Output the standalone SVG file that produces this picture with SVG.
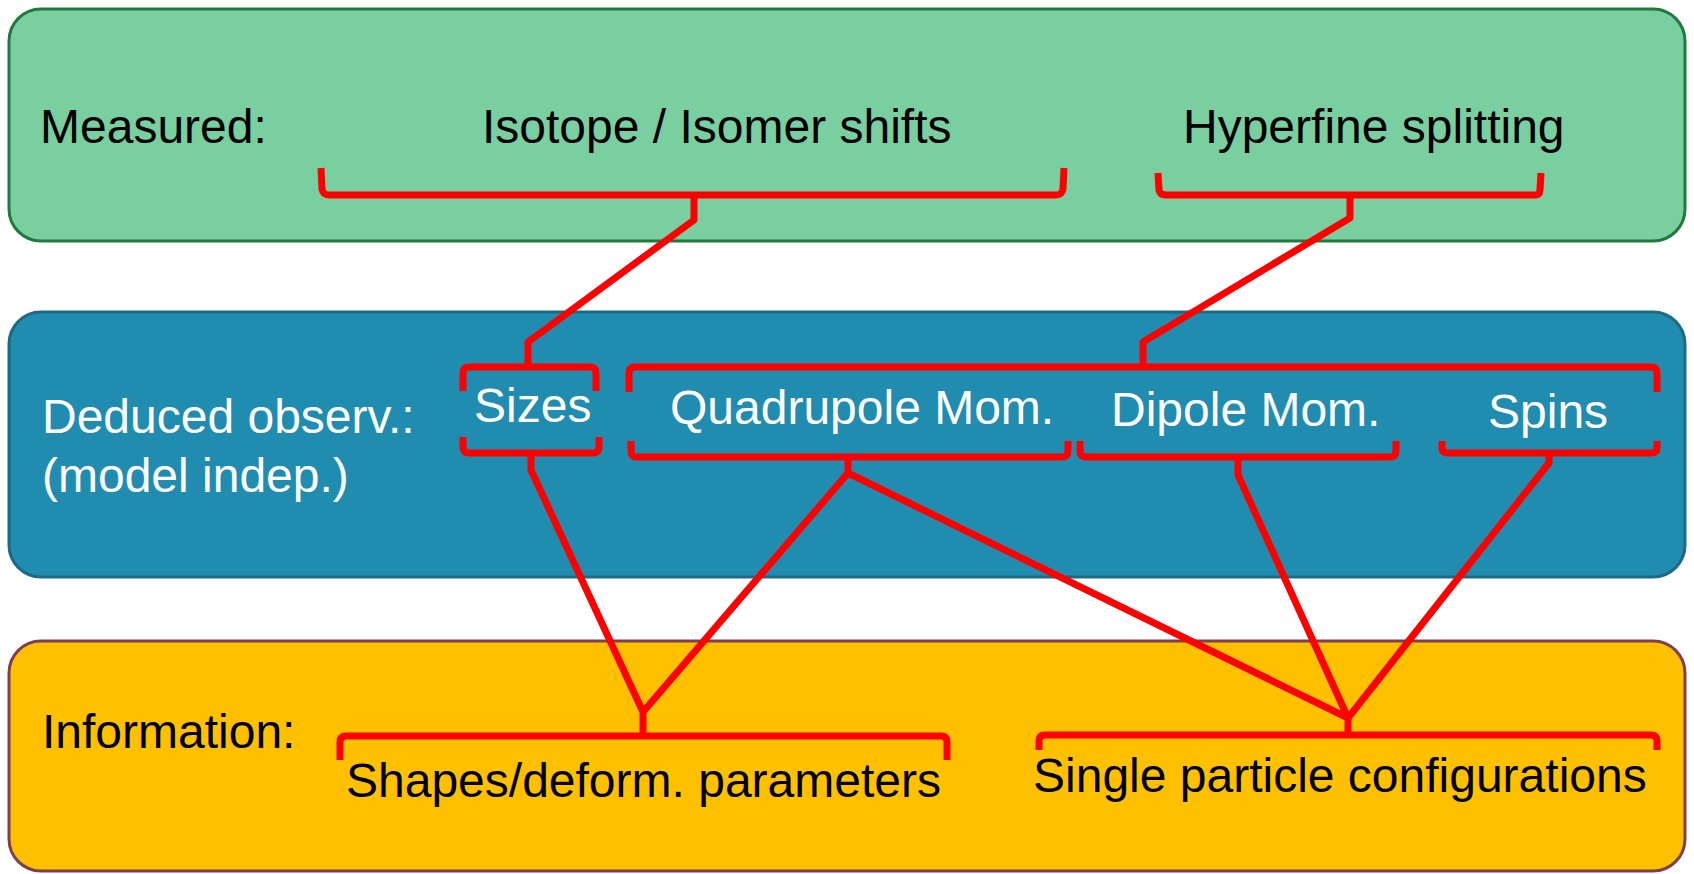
<svg xmlns="http://www.w3.org/2000/svg" width="1694" height="874" viewBox="0 0 1694 874">
<style>
.t{font-family:"Liberation Sans",Arial,sans-serif;font-size:48px}
.dk{fill:#000}
.wh{fill:#fff}
.br{fill:none;stroke:#ff0000;stroke-width:7;stroke-linejoin:round;stroke-linecap:butt}
.cn{fill:none;stroke:#ff0000;stroke-width:7;stroke-linejoin:round;stroke-linecap:butt}
</style>
<rect width="1694" height="874" fill="#fff"/>
<g id="measured">
<rect x="9" y="9" width="1676" height="232" rx="32" ry="32" fill="#7ACFA0" stroke="#1F7A3C" stroke-width="3"/>
<text class="t dk" x="40" y="143">Measured:</text>
</g>
<g id="isotope">
<text class="t dk" x="482" y="143">Isotope / Isomer shifts</text>
<path class="br" d="M321,168 L322,189 Q323,195 329,195 L1056,195 Q1062,195 1063,189 L1064,168"/>
</g>
<g id="hyperfine">
<text class="t dk" x="1183" y="143">Hyperfine splitting</text>
<path class="br" d="M1158,173 L1159,190 Q1160,195 1166,195 L1535,195 Q1540,195 1540,190 L1541,173"/>
</g>
<g id="deduced">
<rect x="9" y="312" width="1676" height="265" rx="32" ry="32" fill="#208DB0" stroke="#1B6A86" stroke-width="3"/>
<text class="t wh" x="42" y="433">Deduced observ.:</text>
<text class="t wh" x="42" y="492">(model indep.)</text>
</g>
<g id="sizes">
<text class="t wh" x="474" y="422">Sizes</text>
<path class="br" d="M463,391 L463,373 Q463,367 469,367 L590,367 Q596,367 596,373 L596,391"/>
<path class="br" d="M463,437 L463,447 Q463,453 469,453 L593,453 Q599,453 599,447 L599,437"/>
</g>
<g id="moments-spins">
<path class="br" d="M629,392 L629,373 Q629,367 635,367 L1651,367 Q1657,367 1657,373 L1657,392"/>
</g>
<g id="quadrupole">
<text class="t wh" x="670" y="424">Quadrupole Mom.</text>
<path class="br" d="M631,441 L631,451 Q631,457 637,457 L1062,457 Q1068,457 1068,451 L1068,441"/>
</g>
<g id="dipole">
<text class="t wh" x="1111" y="426">Dipole Mom.</text>
<path class="br" d="M1080,441 L1080,451 Q1080,457 1086,457 L1390,457 Q1396,457 1396,451 L1396,441"/>
</g>
<g id="spins">
<text class="t wh" x="1488" y="428">Spins</text>
<path class="br" d="M1442,441 L1442,448 Q1442,453 1448,453 L1651,453 Q1657,453 1657,448 L1657,441"/>
</g>
<g id="information">
<rect x="9" y="641" width="1676" height="230" rx="32" ry="32" fill="#FFC000" stroke="#7E3F50" stroke-width="3"/>
<text class="t dk" x="42" y="748">Information:</text>
</g>
<g id="shapes">
<path class="br" d="M340,760 L340,742 Q340,736 346,736 L941,736 Q947,736 947,742 L947,760"/>
<text class="t dk" x="346" y="797">Shapes/deform. parameters</text>
</g>
<g id="single">
<path class="br" d="M1039,750 L1039,741 Q1039,735 1045,735 L1651,735 Q1657,735 1657,741 L1657,750"/>
<text class="t dk" x="1033" y="792">Single particle configurations</text>
</g>
<g id="connectors">
<path class="cn" d="M694,195 L694,220 L528,342 L528,367"/>
<path class="cn" d="M1350,195 L1350,218 L1143,342 L1143,367"/>
<path class="cn" d="M531,453 L531,470 L643,712 L643,736"/>
<path class="cn" d="M848,457 L848,473 L643,712"/>
<path class="cn" d="M848,473 L1348,718 L1348,735"/>
<path class="cn" d="M1238,457 L1238,475 L1348,718"/>
<path class="cn" d="M1549,453 L1549,463 L1348,718"/>
</g>
</svg>
